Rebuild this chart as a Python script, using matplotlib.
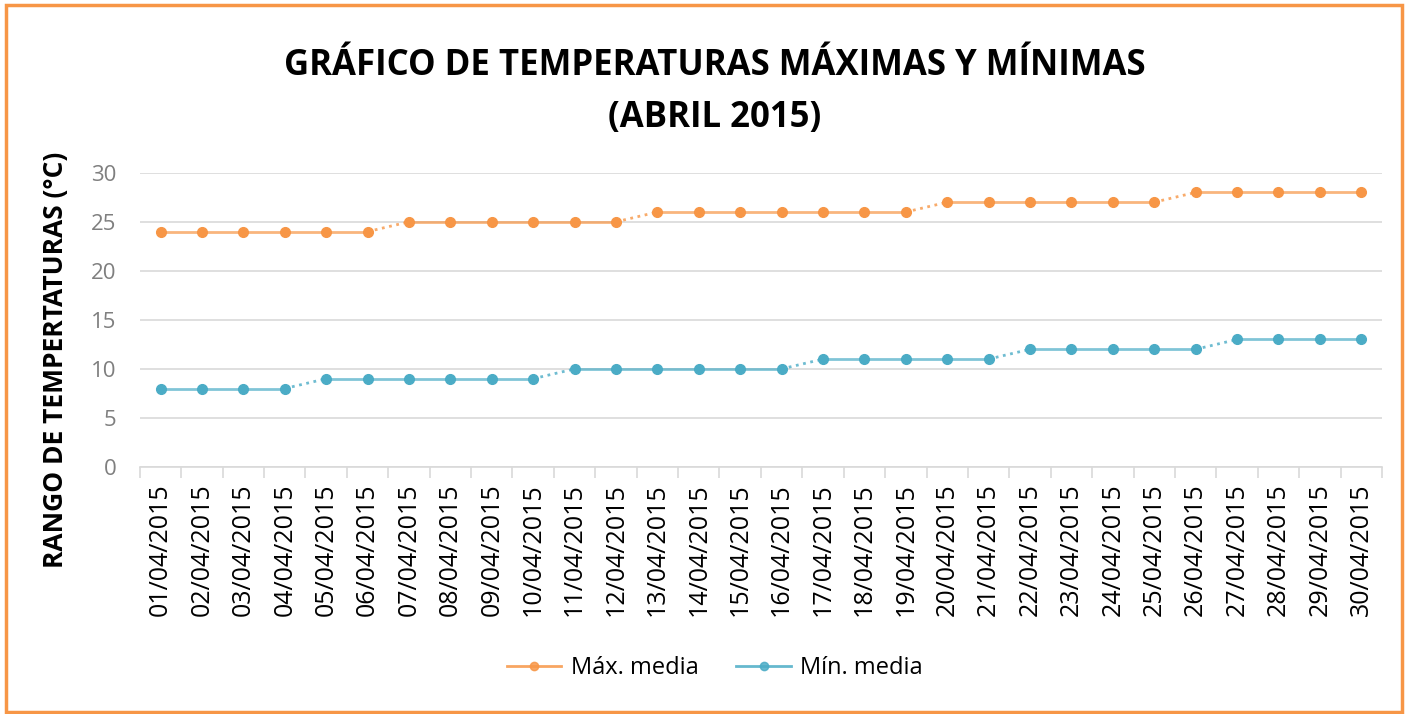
import matplotlib
matplotlib.use("Agg")
import matplotlib.pyplot as plt
from matplotlib.lines import Line2D
from matplotlib.patches import Rectangle
import numpy as np

plt.rcParams['font.family'] = ['Open Sans', 'DejaVu Sans']

dates = ["%02d/04/2015" % d for d in range(1, 31)]
max_media = [24, 24, 24, 24, 24, 24,
             25, 25, 25, 25, 25, 25,
             26, 26, 26, 26, 26, 26, 26,
             27, 27, 27, 27, 27, 27,
             28, 28, 28, 28, 28]
min_media = [8, 8, 8, 8,
             9, 9, 9, 9, 9, 9,
             10, 10, 10, 10, 10, 10,
             11, 11, 11, 11, 11,
             12, 12, 12, 12, 12,
             13, 13, 13, 13]

orange = "#F79646"
blue = "#4BACC6"

fig = plt.figure(figsize=(14.13, 7.14), dpi=100)
ax = fig.add_axes([0.099, 0.346, 0.879, 0.412])

x = np.arange(len(dates))


def draw_series(vals, color):
    vals = np.array(vals)
    # solid where value stays the same, dotted where it changes
    for i in range(len(vals) - 1):
        ls = '-' if vals[i] == vals[i + 1] else ':'
        ax.plot(x[i:i + 2], vals[i:i + 2], color=color, lw=2, ls=ls,
                alpha=0.7 if ls == '-' else 0.8, zorder=2)
    ax.plot(x, vals, ls='none', marker='o', ms=7, color=color, zorder=3)


draw_series(max_media, orange)
draw_series(min_media, blue)

ax.set_xlim(-0.5, len(dates) - 0.5)
ax.set_ylim(0, 30)
ax.set_yticks(range(0, 31, 5))
ax.grid(axis='y', color='#d9d9d9', lw=1.2)
ax.set_axisbelow(True)
for s in ['top', 'right', 'left']:
    ax.spines[s].set_visible(False)
ax.spines['bottom'].set_color('#d9d9d9')
ax.spines['bottom'].set_linewidth(1.2)

ax.set_xticks(x)
ax.set_xticklabels(dates, rotation=90, fontsize=18, color='black')
ax.tick_params(axis='x', length=0, pad=12)
ax.set_xticks(np.arange(-0.5, len(dates)), minor=True)
ax.tick_params(axis='x', which='minor', length=8, color='#d9d9d9', width=1.2)
ax.tick_params(axis='y', length=0, labelsize=16, labelcolor='#7f7f7f', pad=17)

fig.text(0.039, 0.496, "RANGO DE TEMPERTATURAS (°C)", rotation=90,
         fontsize=19, fontweight='bold', ha='center', va='center')

fig.text(0.506, 0.908, "GRÁFICO DE TEMPERATURAS MÁXIMAS Y MÍNIMAS",
         fontsize=25, fontweight='bold', ha='center', va='center')
fig.text(0.506, 0.835, "(ABRIL 2015)",
         fontsize=25, fontweight='bold', ha='center', va='center')

handles = [Line2D([], [], color=orange, lw=2, marker='o', ms=6,
                  markerfacecolor=orange, markeredgecolor=orange, alpha=0.85),
           Line2D([], [], color=blue, lw=2, marker='o', ms=6,
                  markerfacecolor=blue, markeredgecolor=blue, alpha=0.85)]
fig.legend(handles, ["Máx. media", "Mín. media"], loc='center',
           bbox_to_anchor=(0.506, 0.064), ncol=2, frameon=False,
           fontsize=17, handlelength=2.3, handletextpad=0.4, columnspacing=1.6)

fig.patches.append(Rectangle((0.004, 0.003), 0.988, 0.99, transform=fig.transFigure,
                             fill=False, edgecolor=orange, lw=2.5))

fig.savefig("out.png", dpi=100)
